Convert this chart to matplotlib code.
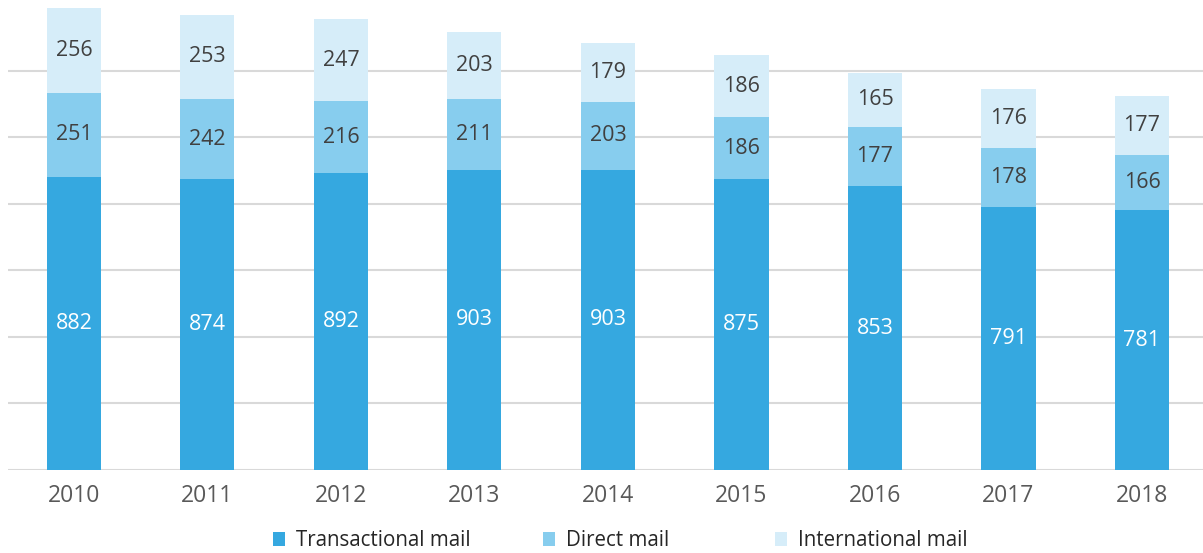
import numpy as np
import matplotlib.pyplot as plt

plt.rcParams['font.family'] = ['Open Sans', 'DejaVu Sans']

# data
years = ['2010', '2011', '2012', '2013', '2014', '2015', '2016', '2017', '2018']
transactional = [882, 874, 892, 903, 903, 875, 853, 791, 781]
direct = [251, 242, 216, 211, 203, 186, 177, 178, 166]
international = [256, 253, 247, 203, 179, 186, 165, 176, 177]

c_trans = '#35A8E0'
c_direct = '#87CDEE'
c_intl = '#D6EDF9'

fig = plt.figure(figsize=(12.03, 5.53), dpi=100)
ax = fig.add_axes([8 / 1203, 83 / 553, 1195 / 1203, 470 / 553])

x = np.arange(len(years))
w = 0.405
t = np.array(transactional)
d = np.array(direct)
i = np.array(international)

b1 = ax.bar(x, t, w, color=c_trans, label='Transactional mail', zorder=2)
b2 = ax.bar(x, d, w, bottom=t, color=c_direct, label='Direct mail', zorder=2)
b3 = ax.bar(x, i, w, bottom=t + d, color=c_intl, label='International mail', zorder=2)

ax.bar_label(b1, label_type='center', color='white', fontsize=15.5)
ax.bar_label(b2, label_type='center', color='#404040', fontsize=15.5)
ax.bar_label(b3, label_type='center', color='#404040', fontsize=15.5)

ax.set_xlim(-0.494, 8.457)
ax.set_ylim(0, 1413)
ax.set_yticks(range(0, 1201, 200))
ax.yaxis.grid(True, color='#D9D9D9', linewidth=1.5, zorder=0)
ax.set_axisbelow(True)
ax.tick_params(axis='y', left=False, labelleft=False)
ax.set_xticks(x)
ax.set_xticklabels(years, fontsize=16.5, color='#595959')
ax.tick_params(axis='x', length=0, pad=10)
for s in ax.spines.values():
    s.set_visible(False)

# legend entries placed one by one, like the original
for h, xpos in zip([b1, b2, b3], [273, 543, 775]):
    fig.legend(handles=[h], loc='center left', bbox_to_anchor=(xpos / 1203, 1 - 541 / 553),
               frameon=False, fontsize=14.8, handlelength=0.6, handleheight=0.65,
               handletextpad=0.5, borderpad=0, borderaxespad=0, labelcolor='#262626')

fig.savefig('out.png', dpi=100)
